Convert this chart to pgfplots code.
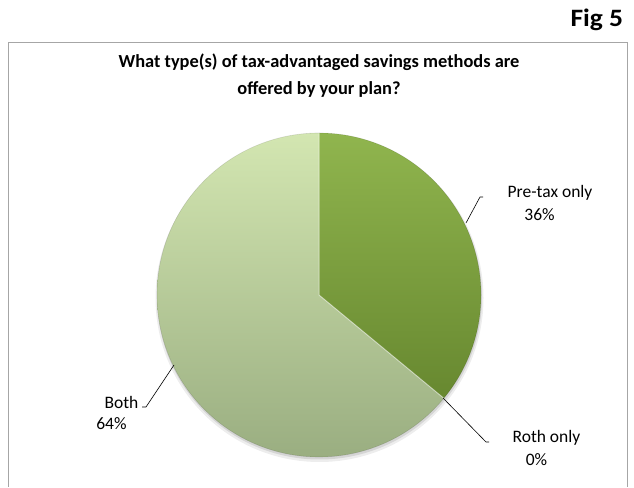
\documentclass[border=0pt]{standalone}
\usepackage{fontspec}
\setmainfont{Carlito}
\usepackage{pgfplots}
\usepackage{pgfplotstable}
\pgfplotsset{compat=1.18}
\definecolor{framec}{HTML}{A6A6A6}
\definecolor{preTop}{HTML}{90B54E}
\definecolor{preBot}{HTML}{5E7E29}
\definecolor{bothTop}{HTML}{D3E6B1}
\definecolor{bothBot}{HTML}{9AAE81}

\pgfplotstableread{
label value
Pre-tax 36
Roth 0
Both 64
}\piedata

\begin{document}
\begin{tikzpicture}
\pgfplotstablegetelem{0}{value}\of\piedata \pgfmathsetmacro\va{\pgfplotsretval}
\pgfplotstablegetelem{1}{value}\of\piedata \pgfmathsetmacro\vb{\pgfplotsretval}
\pgfplotstablegetelem{2}{value}\of\piedata \pgfmathsetmacro\vc{\pgfplotsretval}
\pgfmathsetmacro\aA{90-3.6*\va}
\pgfmathsetmacro\aB{\aA-3.6*\vb}
\pgfmathsetmacro\aC{\aB-3.6*\vc}
\path[use as bounding box] (0,0) rectangle (634pt,487pt);
\begin{axis}[x=1pt,y=1pt,xmin=0,xmax=634,ymin=0,ymax=487,
  scale only axis,hide axis,clip=false,at={(0,0)},anchor=south west]
% frame
\draw[framec,line width=0.9pt] (axis cs:8,0) -- (axis cs:8,445) -- (axis cs:627,445) -- (axis cs:627,0);
% Fig 5
\node[anchor=east,font=\fontsize{25}{29}\selectfont\bfseries,xscale=1.1,transform shape] at (axis cs:627,467) {Fig 5};
% title
\node[align=center,font=\fontsize{18.4}{27}\selectfont\bfseries] at (axis cs:319,411.5)
  {What type(s) of tax-advantaged savings methods are\\offered by your plan?};
% shadow
\fill[black,opacity=0.07] (axis cs:319.5,189) circle[radius=164pt];
\fill[black,opacity=0.10] (axis cs:319.5,190) circle[radius=162.5pt];
% Pre-tax slice
\begin{scope}
\clip (axis cs:319,192) -- ++(90:162pt) arc[start angle=90,end angle=\aA,radius=162pt] -- cycle;
\shade[top color=preTop,bottom color=preBot] (axis cs:157,30) rectangle (axis cs:481,354);
\end{scope}
% Both slice
\begin{scope}
\clip (axis cs:319,192) -- ++(\aB:162pt) arc[start angle=\aB,end angle=\aC,radius=162pt] -- cycle;
\shade[top color=bothTop,bottom color=bothBot] (axis cs:157,30) rectangle (axis cs:481,354);
\end{scope}
% bevel highlights on slice borders
\draw[white,opacity=0.45,line width=1pt] (axis cs:319,354) -- (axis cs:319,192) -- ++(\aA:162pt);
\draw[black,opacity=0.12,line width=0.6pt] (axis cs:319,192) ++(90:162pt) arc[start angle=90,end angle=-270,radius=162pt];
% leader lines
\draw[black,line width=0.6pt] (axis cs:466,264) -- (axis cs:480,290) -- (axis cs:483,290);
\draw[black,line width=0.6pt] (axis cs:443,89) -- (axis cs:486,45) -- (axis cs:489,45);
\draw[black,line width=0.6pt] (axis cs:174,122) -- (axis cs:146,80) -- (axis cs:142,80);
% labels
\begin{scope}[every node/.style={font=\fontsize{17.5}{21}\selectfont}]
\node at (axis cs:550,294) {Pre-tax only};
\node at (axis cs:539.5,272) {36\%};
\node at (axis cs:546.5,49) {Roth only};
\node at (axis cs:536.5,27) {0\%};
\node at (axis cs:121.5,85) {Both};
\node at (axis cs:111.5,63) {64\%};
\end{scope}
\end{axis}
\end{tikzpicture}
\end{document}
